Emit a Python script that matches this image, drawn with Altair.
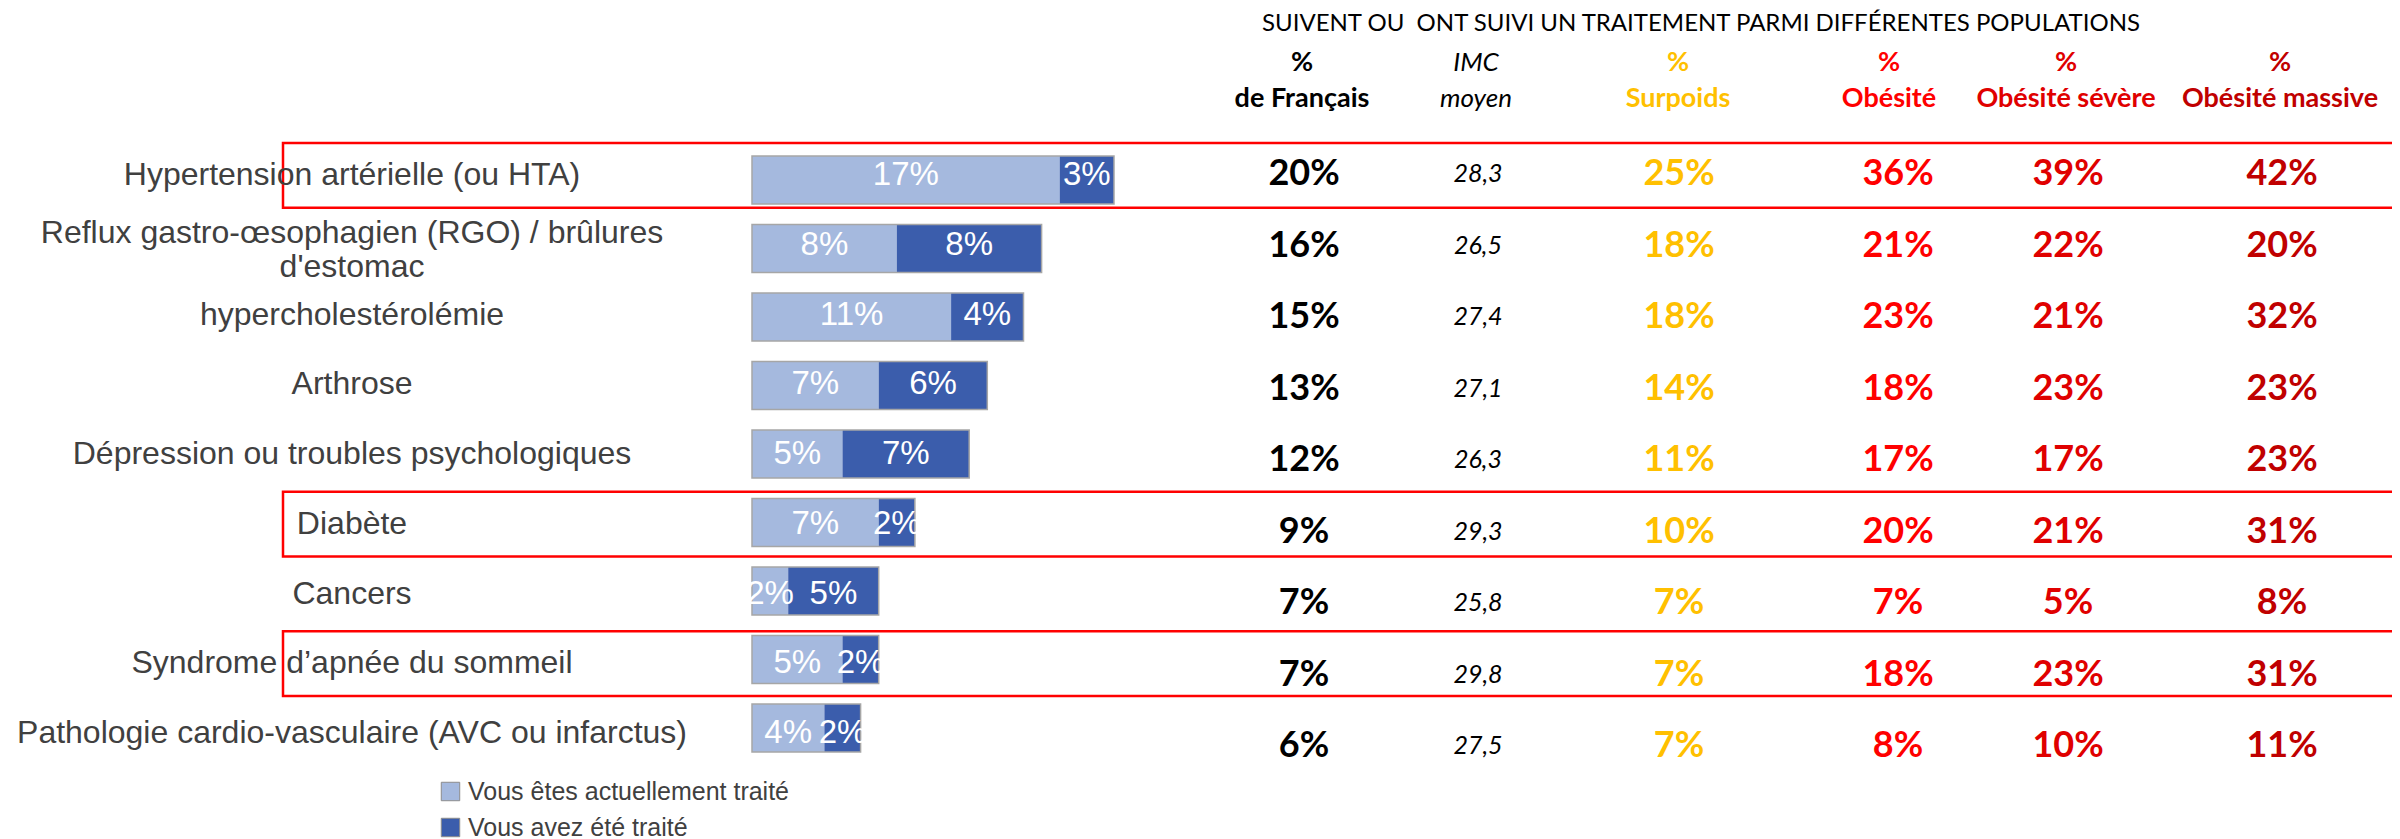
import altair as alt
import pandas as pd

# ---------------- data ----------------
categories = [
    "Hypertension artérielle (ou HTA)",
    "Reflux gastro-œsophagien (RGO) / brûlures\nd'estomac",
    "hypercholestérolémie",
    "Arthrose",
    "Dépression ou troubles psychologiques",
    "Diabète",
    "Cancers",
    "Syndrome d’apnée du sommeil",
    "Pathologie cardio-vasculaire (AVC ou infarctus)",
]
current = [17, 8, 11, 7, 5, 7, 2, 5, 4]
past = [3, 8, 4, 6, 7, 2, 5, 2, 2]
series_names = ["Vous êtes actuellement traité", "Vous avez été traité"]

pct_francais = [20, 16, 15, 13, 12, 9, 7, 7, 6]
imc_moyen = ["28,3", "26,5", "27,4", "27,1", "26,3", "29,3", "25,8", "29,8", "27,5"]
pct_surpoids = [25, 18, 18, 14, 11, 10, 7, 7, 7]
pct_obesite = [36, 21, 23, 18, 17, 20, 7, 18, 8]
pct_severe = [39, 22, 21, 23, 17, 21, 5, 23, 10]
pct_massive = [42, 20, 32, 23, 23, 31, 8, 31, 11]

highlighted = ["Hypertension artérielle (ou HTA)", "Diabète", "Syndrome d’apnée du sommeil"]

title_text = "SUIVENT OU\u00a0 ONT SUIVI UN TRAITEMENT PARMI DIFFÉRENTES POPULATIONS"
header_top = ["%", "IMC", "%", "%", "%", "%"]
header_bottom = ["de Français", "moyen", "Surpoids", "Obésité", "Obésité sévère", "Obésité massive"]

# ---------------- styles / layout ----------------
LIGHT = "#A5B9DE"
DARK = "#3B5DAC"
COL_COLORS = ["#000000", "#000000", "#FFC000", "#FF0000", "#E00000", "#C00000"]
LABEL_GRAY = "#404040"

W, H = 2384, 831
x_bar = alt.Scale(domain=[0, 100], range=[744, 744 + 1810], zero=False, nice=False)
y_bar = alt.Scale(domain=[0, 8], range=[167, 167 + 8 * 69.75], zero=False, nice=False)
y_tab = alt.Scale(domain=[0, 8], range=[166, 166 + 8 * 71.5], zero=False, nice=False)
x_tab = alt.Scale(domain=[0, 1, 2, 3, 4, 5], range=[1296, 1470, 1671, 1890, 2060, 2274],
                  zero=False, nice=False)
x_head = alt.Scale(domain=[0, 1, 2, 3, 4, 5], range=[1294, 1468, 1670, 1881, 2058, 2272],
                   zero=False, nice=False)

# ---------------- tables built from the arrays ----------------
seg_rows = []
tot_rows = []
for i, cat in enumerate(categories):
    c, p = current[i], past[i]
    seg_rows.append(dict(row=i, series=series_names[0], start=0, end=c, mid=c / 2, lab=f"{c}%"))
    seg_rows.append(dict(row=i, series=series_names[1], start=c, end=c + p, mid=c + p / 2, lab=f"{p}%"))
    tot_rows.append(dict(row=i, cat=cat, zero=0, total=c + p))
seg_df = pd.DataFrame(seg_rows)
tot_df = pd.DataFrame(tot_rows)

hi_df = pd.DataFrame([dict(row=i) for i, c in enumerate(categories) if c in highlighted])

pct_cols = [pct_francais, None, pct_surpoids, pct_obesite, pct_severe, pct_massive]
tab_rows = []
for j, col in enumerate(pct_cols):
    if col is None:
        continue
    for i, v in enumerate(col):
        tab_rows.append(dict(row=i, col=j, colname=header_bottom[j], txt=f"{v}%"))
tab_df = pd.DataFrame(tab_rows)
imc_df = pd.DataFrame([dict(row=i, col=1, txt=v) for i, v in enumerate(imc_moyen)])

head_df = pd.DataFrame([dict(col=j, top=header_top[j], bottom=header_bottom[j], colname=header_bottom[j])
                        for j in range(6) if j != 1])
head_imc_df = pd.DataFrame([dict(col=1, top=header_top[1], bottom=header_bottom[1])])

col_color = alt.Color("colname:N", scale=alt.Scale(domain=header_bottom, range=COL_COLORS), legend=None)

# ---------------- layers ----------------
rects = alt.Chart(hi_df).transform_calculate(
    top="datum.row - 0.46", bot="datum.row + 0.47"
).mark_rect(fillOpacity=0, stroke="#FF0000", strokeWidth=2.5).encode(
    x=alt.value(275), x2=alt.value(2420),
    y=alt.Y("top:Q", scale=y_bar, axis=None), y2="bot:Q",
)

bars = alt.Chart(seg_df).mark_bar(orient="horizontal", size=48).encode(
    x=alt.X("start:Q", scale=x_bar, axis=None), x2="end:Q",
    y=alt.Y("row:Q", scale=y_bar, axis=None),
    color=alt.Color("series:N", scale=alt.Scale(domain=series_names, range=[LIGHT, DARK]),
                    legend=alt.Legend(title=None, orient="none", legendX=430, legendY=771,
                                      direction="vertical", symbolType="square", symbolSize=340,
                                      symbolStrokeColor="#8C8C8C", symbolStrokeWidth=1,
                                      labelFont="Liberation Sans", labelFontSize=25,
                                      labelColor=LABEL_GRAY, labelOffset=5, rowPadding=10,
                                      padding=0, labelLimit=600)),
)

outline = alt.Chart(tot_df).mark_bar(orient="horizontal", size=48, fillOpacity=0,
                                     stroke="#A6A6A6", strokeWidth=1.5).encode(
    x=alt.X("zero:Q", scale=x_bar, axis=None), x2="total:Q",
    y=alt.Y("row:Q", scale=y_bar, axis=None),
)

seg_labels = alt.Chart(seg_df).mark_text(font="Liberation Sans", fontSize=33, color="white",
                                         align="center", baseline="middle").encode(
    x=alt.X("mid:Q", scale=x_bar, axis=None),
    y=alt.Y("row:Q", scale=y_bar, axis=None),
    text="lab:N",
)

cat_labels = alt.Chart(tot_df).transform_calculate(
    ly="datum.row - (length(split(datum.cat, '\\n')) - 1) * 0.17"
).mark_text(font="Liberation Sans", fontSize=32, color=LABEL_GRAY,
            align="center", baseline="middle", lineBreak="\n", lineHeight=34).encode(
    x=alt.value(344),
    y=alt.Y("ly:Q", scale=y_bar, axis=None),
    text="cat:N",
)

tab_values = alt.Chart(tab_df).mark_text(font="Lato", fontSize=36, fontWeight="bold",
                                         align="center", baseline="middle").encode(
    x=alt.X("col:Q", scale=x_tab, axis=None),
    y=alt.Y("row:Q", scale=y_tab, axis=None),
    text="txt:N",
    color=col_color,
)

imc_values = alt.Chart(imc_df).mark_text(font="Lato", fontSize=25, fontStyle="italic",
                                         color="#000000", align="center", baseline="middle").encode(
    x=alt.X("col:Q", scale=x_tab, axis=None),
    y=alt.Y("row:Q", scale=y_tab, axis=None),
    text="txt:N",
)

head_top = alt.Chart(head_df).mark_text(font="Lato", fontSize=27, fontWeight="bold",
                                        align="center", baseline="middle").encode(
    x=alt.X("col:Q", scale=x_head, axis=None), y=alt.value(55), text="top:N", color=col_color)
head_bot = alt.Chart(head_df).mark_text(font="Lato", fontSize=27, fontWeight="bold",
                                        align="center", baseline="middle").encode(
    x=alt.X("col:Q", scale=x_head, axis=None), y=alt.value(91), text="bottom:N", color=col_color)
head_imc_top = alt.Chart(head_imc_df).mark_text(font="Lato", fontSize=26, fontStyle="italic",
                                                color="#000000", align="center", baseline="middle").encode(
    x=alt.X("col:Q", scale=x_head, axis=None), y=alt.value(55), text="top:N")
head_imc_bot = alt.Chart(head_imc_df).mark_text(font="Lato", fontSize=26, fontStyle="italic",
                                                color="#000000", align="center", baseline="middle").encode(
    x=alt.X("col:Q", scale=x_head, axis=None), y=alt.value(91), text="bottom:N")

title = alt.Chart(pd.DataFrame({"t": [title_text]})).mark_text(
    font="Lato", fontSize=24, color="#000000", align="center", baseline="middle").encode(
    x=alt.value(1693), y=alt.value(16), text="t:N")

chart = alt.layer(
    rects, bars, outline, seg_labels, cat_labels,
    tab_values, imc_values, head_top, head_bot, head_imc_top, head_imc_bot, title,
).resolve_scale(
    x="independent", y="independent", color="independent"
).properties(
    width=W, height=H, autosize=alt.AutoSizeParams(type="none"), padding=0,
    background="white",
).configure_view(stroke=None)

chart.save("out.html", embed_options={"renderer": "svg", "actions": False})
